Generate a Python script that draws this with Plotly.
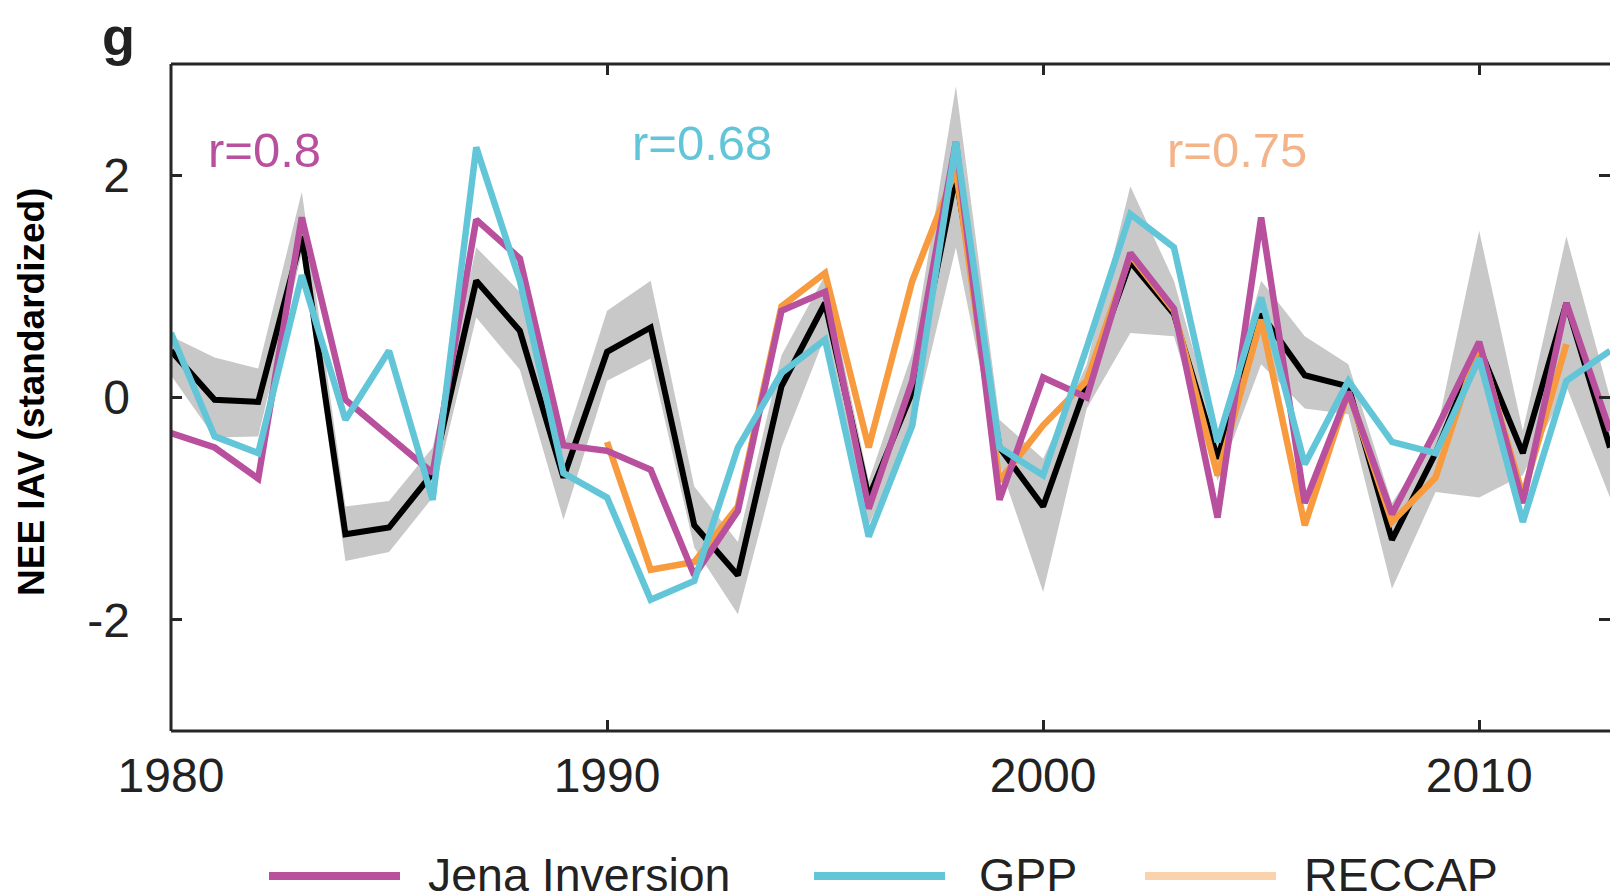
import plotly.graph_objects as go

years = list(range(1980, 2014))

# ensemble mean (black) and its spread (grey band)
mean_nee = [0.42, -0.02, -0.04, 1.45, -1.23, -1.17, -0.68, 1.05, 0.6, -0.72,
            0.41, 0.63, -1.15, -1.6, 0.1, 0.85, -0.9, 0.05, 2.0, -0.45,
            -0.98, 0.12, 1.22, 0.75, -0.55, 0.75, 0.2, 0.1, -1.28, -0.5,
            0.45, -0.5, 0.85, -0.45]
band_upper = [0.55, 0.36, 0.26, 1.85, -0.98, -0.93, -0.45, 1.35, 0.95, -0.45,
              0.78, 1.05, -0.8, -1.3, 0.38, 1.1, -0.75, 0.4, 2.8, -0.2,
              -0.55, 0.3, 1.9, 1.05, -0.35, 1.05, 0.55, 0.3, -0.95, -0.35,
              1.5, -0.3, 1.45, 0.0]
band_lower = [0.2, -0.36, -0.35, 1.3, -1.47, -1.39, -0.9, 0.72, 0.25, -1.1,
              0.15, 0.35, -1.35, -1.95, -0.45, 0.55, -1.15, -0.3, 1.35, -0.6,
              -1.75, -0.1, 0.58, 0.55, -0.75, 0.3, -0.1, -0.15, -1.72, -0.85,
              -0.9, -0.7, 0.1, -0.9]

jena = [-0.32, -0.45, -0.73, 1.62, -0.02, -0.35, -0.68, 1.6, 1.25, -0.43,
        -0.48, -0.65, -1.6, -1.02, 0.78, 0.95, -1.0, 0.15, 2.3, -0.92,
        0.18, 0.0, 1.3, 0.8, -1.08, 1.62, -0.95, 0.05, -1.05, -0.3,
        0.5, -0.95, 0.85, -0.3]
gpp = [0.58, -0.35, -0.5, 1.1, -0.2, 0.42, -0.92, 2.25, 1.05, -0.68,
       -0.9, -1.82, -1.65, -0.45, 0.22, 0.52, -1.25, -0.25, 2.3, -0.45,
       -0.7, 0.45, 1.65, 1.35, -0.4, 0.9, -0.6, 0.15, -0.4, -0.5,
       0.35, -1.12, 0.15, 0.42]
reccap_years = list(range(1990, 2013))
reccap = [-0.4, -1.55, -1.48, -0.98, 0.82, 1.12, -0.45, 1.05, 2.05, -0.75,
          -0.25, 0.15, 1.28, 0.78, -0.7, 0.7, -1.15, 0.05, -1.12, -0.72,
          0.48, -0.88, 0.48]

x_tick_vals = [1980, 1990, 2000, 2010]
y_tick_vals = [-2, 0, 2]
y_tick_text = ["-2", "0", "2"]
legend_names = ["Jena Inversion", "GPP", "RECCAP"]
r_labels = ["r=0.8", "r=0.68", "r=0.75"]

C_MAG = "#B8509E"
C_CYAN = "#62C6D8"
C_ORANGE = "#F79B3E"
C_PEACH = "#FAD2AE"
C_RTXT_OR = "#F4B48A"
C_GREY = "#C8C8C8"
C_AX = "#262626"
FONT = "Liberation Sans, Arial, sans-serif"

fig = go.Figure()
fig.add_trace(go.Scatter(x=years, y=band_lower, mode="lines", line=dict(width=0, color=C_GREY),
                         hoverinfo="skip", showlegend=False))
fig.add_trace(go.Scatter(x=years, y=band_upper, mode="lines", line=dict(width=0, color=C_GREY),
                         fill="tonexty", fillcolor=C_GREY, hoverinfo="skip", showlegend=False))
fig.add_trace(go.Scatter(x=years, y=mean_nee, mode="lines", line=dict(color="black", width=6),
                         showlegend=False))
fig.add_trace(go.Scatter(x=reccap_years, y=reccap, mode="lines", line=dict(color=C_ORANGE, width=6.5),
                         name=legend_names[2], showlegend=False))
fig.add_trace(go.Scatter(x=years, y=jena, mode="lines", line=dict(color=C_MAG, width=6.5),
                         name=legend_names[0], showlegend=False))
fig.add_trace(go.Scatter(x=years, y=gpp, mode="lines", line=dict(color=C_CYAN, width=6.5),
                         name=legend_names[1], showlegend=False))

W, H = 1610, 891
ML, MR, MT, MB = 171, 0, 64, 160
PW, PH = W - ML - MR, H - MT - MB


def px(X):
    return (X - ML) / PW


def py(Y):
    return (H - MB - Y) / PH


axis_common = dict(showgrid=False, zeroline=False, showline=False,
                   ticks="inside", ticklen=11, tickwidth=2.5, tickcolor=C_AX, mirror="ticks",
                   tickfont=dict(family=FONT, size=48, color="#222222"))

fig.update_xaxes(range=[1980, 2013], tickvals=x_tick_vals, ticklabelstandoff=12, **axis_common)
fig.update_yaxes(range=[-3, 3], tickvals=y_tick_vals, ticktext=y_tick_text,
                 ticklabelstandoff=40, **axis_common)

annotations = [
    dict(text="<b>g</b>", x=px(118), y=py(36), xref="paper", yref="paper", showarrow=False,
         font=dict(family=FONT, size=54, color="#222222"), xanchor="center", yanchor="middle"),
    dict(text="<b>NEE IAV (standardized)</b>", x=px(31), y=py(392), xref="paper", yref="paper",
         showarrow=False, textangle=-90, font=dict(family=FONT, size=37, color="black"),
         xanchor="center", yanchor="middle"),
    dict(text=r_labels[0], x=px(264), y=py(150), xref="paper", yref="paper", showarrow=False,
         font=dict(family=FONT, size=49, color=C_MAG), xanchor="center", yanchor="middle"),
    dict(text=r_labels[1], x=px(702), y=py(143), xref="paper", yref="paper", showarrow=False,
         font=dict(family=FONT, size=49, color=C_CYAN), xanchor="center", yanchor="middle"),
    dict(text=r_labels[2], x=px(1237), y=py(150), xref="paper", yref="paper", showarrow=False,
         font=dict(family=FONT, size=49, color=C_RTXT_OR), xanchor="center", yanchor="middle"),
]

# plot frame: left, bottom and top lines (right side lies beyond the picture)
shapes = [
    dict(type="line", xref="paper", yref="paper", x0=0, x1=0, y0=0, y1=1,
         line=dict(color=C_AX, width=3)),
    dict(type="line", xref="paper", yref="paper", x0=0, x1=1, y0=0, y1=0,
         line=dict(color=C_AX, width=3)),
    dict(type="line", xref="paper", yref="paper", x0=0, x1=1, y0=1, y1=1,
         line=dict(color=C_AX, width=3)),
]
legend_specs = [(269, 400, 426, C_MAG), (814, 945, 977, C_CYAN), (1145, 1276, 1302, C_PEACH)]
for name, (x0, x1, xt, col) in zip(legend_names, legend_specs):
    shapes.append(dict(type="line", xref="paper", yref="paper", x0=px(x0), x1=px(x1),
                       y0=py(876), y1=py(876), line=dict(color=col, width=8)))
    annotations.append(dict(text=name, x=px(xt), y=py(875), xref="paper", yref="paper",
                            showarrow=False, xanchor="left", yanchor="middle",
                            font=dict(family=FONT, size=46.5, color="#222222")))

fig.update_layout(width=W, height=H, margin=dict(l=ML, r=MR, t=MT, b=MB, pad=0),
                  paper_bgcolor="white", plot_bgcolor="white",
                  annotations=annotations, shapes=shapes, showlegend=False)

fig.write_html("out.html", config={"displayModeBar": False},
               post_script="document.body.style.margin='0';")
